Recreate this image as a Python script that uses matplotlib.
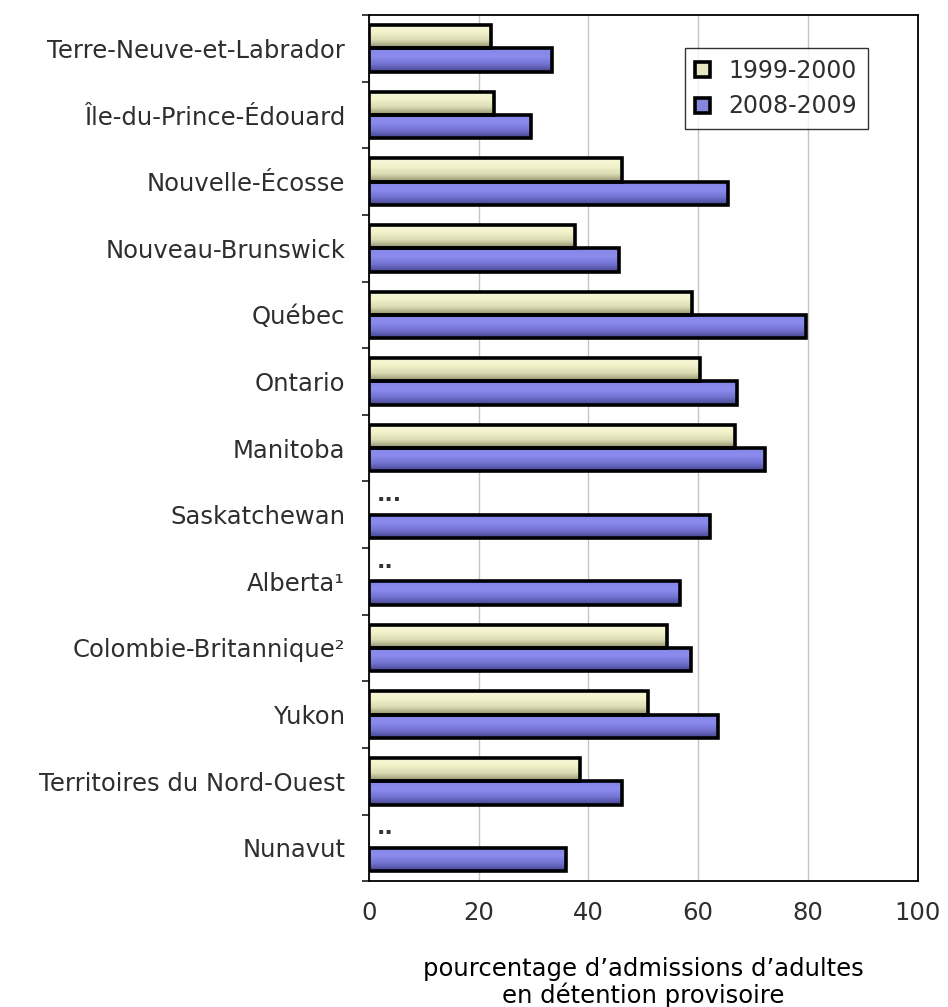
import matplotlib.pyplot as plt
import numpy as np
from matplotlib.patches import Patch
from matplotlib.colors import LinearSegmentedColormap

plt.rcParams.update({
    'font.family': ['DejaVu Sans'],
    'font.size': 17.5,
    'text.color': '#2e2e2e',
    'xtick.color': '#2e2e2e',
    'ytick.color': '#2e2e2e',
})

# Data
provinces = [
    "Terre-Neuve-et-Labrador", "Île-du-Prince-Édouard", "Nouvelle-Écosse",
    "Nouveau-Brunswick", "Québec", "Ontario", "Manitoba", "Saskatchewan",
    "Alberta¹", "Colombie-Britannique²", "Yukon", "Territoires du Nord-Ouest",
    "Nunavut"
]
vals_1999 = [22.2, 22.9, 46.2, 37.5, 58.8, 60.4, 66.7, np.nan, np.nan, 54.4, 50.9, 38.4, np.nan]
vals_2008 = [33.4, 29.6, 65.4, 45.5, 79.7, 67.1, 72.2, 62.2, 56.7, 58.7, 63.6, 46.2, 36.0]
missing_marks = {"Saskatchewan": "...", "Alberta¹": "..", "Nunavut": ".."}
series_names = ["1999-2000", "2008-2009"]
x_ticks = [0, 20, 40, 60, 80, 100]

n = len(provinces)
pos = np.arange(n)[::-1].astype(float)
bar_h = 0.35
off = 0.175

yellow_cm = LinearSegmentedColormap.from_list(
    "y", [(0.55, 0.55, 0.42), (0.86, 0.86, 0.70), (0.95, 0.95, 0.80), (0.97, 0.97, 0.85)])
blue_cm = LinearSegmentedColormap.from_list(
    "b", [(0.27, 0.27, 0.55), (0.45, 0.45, 0.82), (0.55, 0.55, 0.94), (0.52, 0.52, 0.90)])

fig = plt.figure(figsize=(9.48, 10.07), dpi=100)
ax = fig.add_axes([0.389, 0.125, 0.579, 0.860])

grad = np.linspace(0, 1, 64).reshape(-1, 1)


def draw_bars(y, vals, cmap):
    v = np.nan_to_num(np.array(vals, dtype=float), nan=0.0)
    bars = ax.barh(y, v, height=bar_h, facecolor='none', edgecolor='black',
                   linewidth=2.6, zorder=3)
    for b, val in zip(bars, vals):
        if np.isnan(val):
            b.set_visible(False)
            continue
        x0, y0 = b.get_x(), b.get_y()
        im = ax.imshow(grad, cmap=cmap, origin='lower', aspect='auto',
                       extent=(x0, x0 + b.get_width(), y0, y0 + b.get_height()),
                       interpolation='bicubic', zorder=2)
        im.set_clip_path(b)
    return bars


draw_bars(pos + off, vals_1999, yellow_cm)
draw_bars(pos - off, vals_2008, blue_cm)

# ".." / "..." marks where data is unavailable
for i, name in enumerate(provinces):
    if name in missing_marks:
        ax.text(1.5, pos[i] + off + 0.03, missing_marks[name], ha='left',
                va='baseline', fontsize=16, fontweight='bold', color='#333333')

ax.set_xlim(0, 100)
ax.set_ylim(-0.5, n - 0.5)
ax.set_xticks(x_ticks)
ax.set_xticklabels([str(t) for t in x_ticks])
ax.tick_params(axis='x', length=0, pad=14, labelsize=17.5)

ax.set_yticks(pos)
ax.set_yticklabels(provinces)
ax.tick_params(axis='y', which='major', length=0, pad=17, labelsize=17.5)
ax.set_yticks(np.arange(n + 1) - 0.5, minor=True)
ax.tick_params(axis='y', which='minor', length=5, width=1.3, direction='out')

ax.grid(axis='x', color='#c4c4c4', linewidth=1.0, zorder=0)
ax.set_axisbelow(True)
for s in ax.spines.values():
    s.set_linewidth(1.3)
    s.set_color('black')

ax.set_xlabel("pourcentage d\u2019admissions d\u2019adultes\nen détention provisoire",
              fontsize=17.5, labelpad=23, linespacing=1.1)

handles = [
    Patch(facecolor=(0.90, 0.90, 0.76), edgecolor='black', linewidth=2.6),
    Patch(facecolor=(0.52, 0.52, 0.86), edgecolor='black', linewidth=2.6),
]
leg = ax.legend(handles, series_names, loc='upper right', bbox_to_anchor=(0.909, 0.962),
                fontsize=17, frameon=True, fancybox=False, handlelength=0.6,
                handleheight=0.6, handletextpad=0.8, borderpad=0.45, labelspacing=0.5,
                borderaxespad=0)
leg.get_frame().set_edgecolor('black')
leg.get_frame().set_linewidth(1.0)

fig.savefig("out.png", dpi=100)
